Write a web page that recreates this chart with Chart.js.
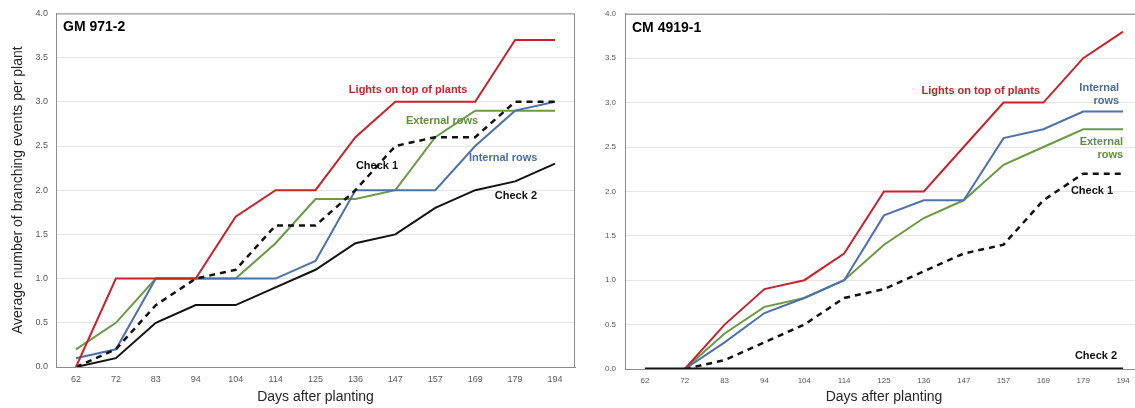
<!DOCTYPE html>
<html>
<head>
<meta charset="utf-8">
<script src="https://cdn.jsdelivr.net/npm/chart.js@4.4.1/dist/chart.umd.min.js"></script>
<style>
  html, body { margin: 0; padding: 0; background: #fff; overflow: hidden; }
  #wrap { position: relative; width: 1135px; height: 408px; overflow: hidden; }
  canvas { position: absolute; top: 0; }
  #left { left: 0; }
  #right { left: 580px; }
</style>
</head>
<body>
<div id="wrap">
  <canvas id="left" width="580" height="408"></canvas>
  <canvas id="right" width="580" height="408"></canvas>
</div>
<script>
// days after planting (shared x categories)
const days = ['62', '72', '83', '94', '104', '114', '125', '136', '147', '157', '169', '179', '194'];

// GM 971-2
const gmLights   = [0, 1.0, 1.0, 1.0, 1.7, 2.0, 2.0, 2.6, 3.0, 3.0, 3.0, 3.7, 3.7];
const gmExternal = [0.2, 0.5, 1.0, 1.0, 1.0, 1.4, 1.9, 1.9, 2.0, 2.6, 2.9, 2.9, 2.9];
const gmInternal = [0.1, 0.2, 1.0, 1.0, 1.0, 1.0, 1.2, 2.0, 2.0, 2.0, 2.5, 2.9, 3.0];
const gmCheck1   = [0, 0.2, 0.7, 1.0, 1.1, 1.6, 1.6, 2.0, 2.5, 2.6, 2.6, 3.0, 3.0];
const gmCheck2   = [0, 0.1, 0.5, 0.7, 0.7, 0.9, 1.1, 1.4, 1.5, 1.8, 2.0, 2.1, 2.3];

// CM 4919-1
const cmLights   = [null, 0, 0.5, 0.9, 1.0, 1.3, 2.0, 2.0, 2.5, 3.0, 3.0, 3.5, 3.8];
const cmInternal = [null, 0, 0.3, 0.63, 0.8, 1.0, 1.73, 1.9, 1.9, 2.6, 2.7, 2.9, 2.9];
const cmExternal = [null, 0, 0.4, 0.7, 0.8, 1.0, 1.4, 1.7, 1.9, 2.3, 2.5, 2.7, 2.7];
const cmCheck1   = [null, 0, 0.1, 0.3, 0.5, 0.8, 0.9, 1.1, 1.3, 1.4, 1.9, 2.2, 2.2];
const cmCheck2   = [0, 0, 0, 0, 0, 0, 0, 0, 0, 0, 0, 0, 0];

const RED = '#c8222c', GREEN = '#6b9a45', BLUE = '#4e71a8', BLACK = '#111';
const FONT = '"Liberation Sans", Arial, sans-serif';

function line(data, color, dashed, width) {
  return {
    data: data,
    borderColor: color,
    borderWidth: width || (dashed ? 2.5 : 2),
    borderDash: dashed ? [6, 5] : [],
    pointRadius: 0,
    tension: 0,
    fill: false,
    spanGaps: false,
  };
}

// draws plot frame, panel name and the in-chart series labels
function panelPlugin(title, items) {
  return {
    id: 'panel',
    beforeDatasetsDraw(chart) {
      const { ctx, chartArea: a } = chart;
      ctx.save();
      ctx.strokeStyle = '#8c8c8c';
      ctx.lineWidth = 1;
      ctx.strokeRect(a.left + 0.5, a.top + 0.5, a.width - 1, a.height);
      ctx.restore();
    },
    afterDatasetsDraw(chart) {
      const { ctx, chartArea: a, scales: { x, y } } = chart;
      ctx.save();
      ctx.textBaseline = 'middle';
      ctx.fillStyle = '#000';
      ctx.textAlign = 'left';
      ctx.font = 'bold 14px ' + FONT;
      ctx.fillText(title, a.left + 7, a.top + 14);
      ctx.font = 'bold 11px ' + FONT;
      items.forEach(it => {
        ctx.fillStyle = it.color;
        ctx.textAlign = it.align || 'center';
        const px = x.getPixelForValue(it.x);
        const py = y.getPixelForValue(it.y);
        [].concat(it.text).forEach((t, k) => ctx.fillText(t, px, py + k * 13));
      });
      ctx.restore();
    }
  };
}

function makeChart(canvas, datasets, cfg) {
  return new Chart(canvas, {
    type: 'line',
    data: { labels: days, datasets: datasets },
    options: {
      responsive: false,
      animation: false,
      devicePixelRatio: 1,
      layout: { padding: { top: 13, right: cfg.padRight, left: 0, bottom: 0 } },
      plugins: { legend: { display: false }, tooltip: { enabled: false } },
      scales: {
        x: {
          type: 'category',
          offset: true,
          grid: { display: false, drawTicks: false },
          border: { display: true, color: '#8c8c8c' },
          ticks: {
            font: { family: FONT, size: cfg.tickSize },
            color: '#595959',
            padding: 7,
            maxRotation: 0,
            autoSkip: false,
          },
          title: {
            display: true,
            text: 'Days after planting',
            font: { family: FONT, size: 14 },
            color: '#262626',
            padding: { top: 0, bottom: 2 },
          },
          afterFit(s) { s.height = cfg.xHeight; },
        },
        y: {
          min: 0,
          max: 4,
          grid: { color: '#e4e4e4', drawTicks: false },
          border: { display: true, color: '#8c8c8c' },
          ticks: {
            stepSize: 0.5,
            font: { family: FONT, size: cfg.tickSize },
            color: '#595959',
            padding: cfg.yPad,
            callback: v => v.toFixed(1),
          },
          title: {
            display: cfg.yTitle,
            text: 'Average number of branching events per plant',
            font: { family: FONT, size: 14 },
            color: '#262626',
            padding: { top: 10, bottom: 0 },
          },
          afterFit(s) { s.width = cfg.yWidth; },
        },
      },
    },
    plugins: [panelPlugin(cfg.title, cfg.labels)],
  });
}

makeChart(document.getElementById('left'), [
  line(gmLights, RED),
  line(gmCheck1, BLACK, true),
  line(gmInternal, BLUE),
  line(gmExternal, GREEN),
  line(gmCheck2, BLACK),
], {
  title: 'GM 971-2',
  padRight: 5, xHeight: 41, yWidth: 56, yPad: 8, tickSize: 9, yTitle: true,
  labels: [
    { text: 'Lights on top of plants', color: RED, x: 8.32, y: 3.13 },
    { text: 'External rows', color: '#5f8f3a', x: 9.17, y: 2.78 },
    { text: 'Check 1', color: BLACK, x: 7.54, y: 2.27 },
    { text: 'Internal rows', color: '#4a6c9e', x: 10.70, y: 2.37 },
    { text: 'Check 2', color: BLACK, x: 11.02, y: 1.94 },
  ],
});

makeChart(document.getElementById('right'), [
  line(cmCheck2, BLACK, false, 3),
  line(cmLights, RED),
  line(cmInternal, BLUE),
  line(cmExternal, GREEN),
  line(cmCheck1, BLACK, true),
], {
  title: 'CM 4919-1',
  padRight: 17, xHeight: 39, yWidth: 45, yPad: 9, tickSize: 8, yTitle: false,
  labels: [
    { text: 'Lights on top of plants', color: RED, x: 8.43, y: 3.13 },
    { text: ['Internal', 'rows'], color: '#4a6c9e', x: 11.9, y: 3.17, align: 'right' },
    { text: ['External', 'rows'], color: '#5f8f3a', x: 12.0, y: 2.56, align: 'right' },
    { text: 'Check 1', color: BLACK, x: 11.22, y: 2.01 },
    { text: 'Check 2', color: BLACK, x: 11.32, y: 0.15 },
  ],
});
</script>
</body>
</html>
